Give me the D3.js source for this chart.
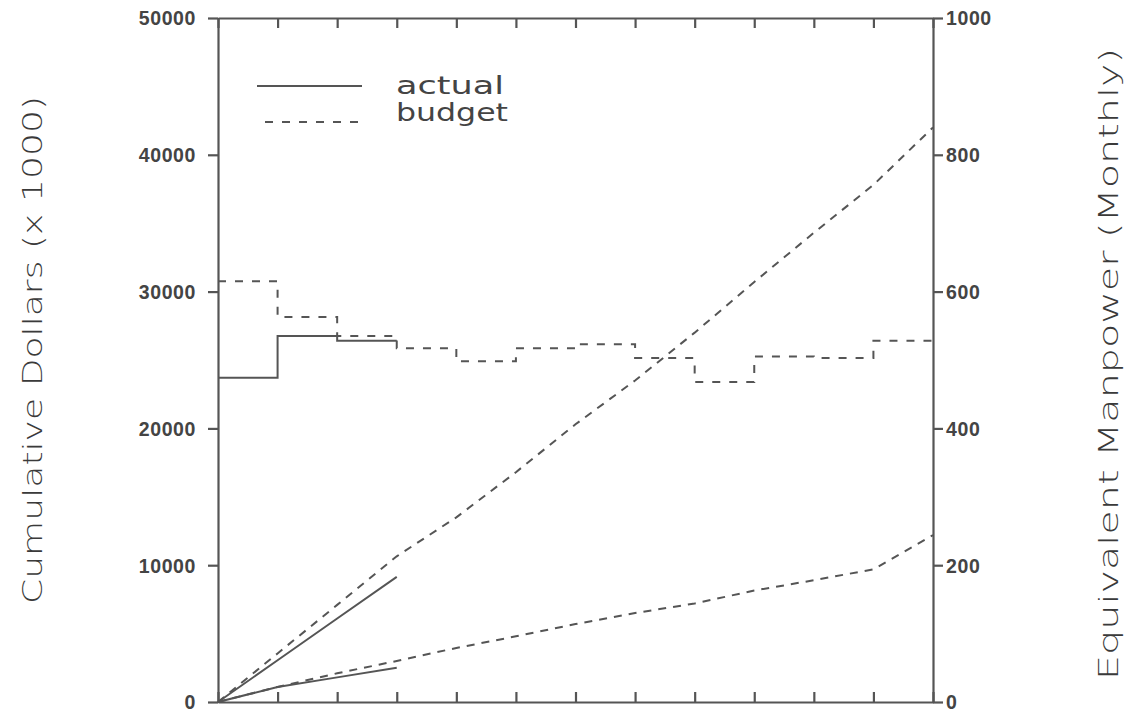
<!DOCTYPE html>
<html><head><meta charset="utf-8">
<script src="https://cdn.jsdelivr.net/npm/d3@7"></script>
<style>
html,body{margin:0;padding:0;background:#fff;}
svg{display:block;}
</style></head>
<body><svg id="c" width="1139" height="715"></svg>
<script>
// ---- data ----
const months = [0,1,2,3,4,5,6,7,8,9,10,11,12];
// cumulative dollars (x 1000), left axis
const budgetDollars = [0,3550,7100,10650,13500,16800,20300,23500,27000,30700,34300,37800,42000];
const actualDollars = [0,3050,6100,9150];
const budgetDollars2 = [0,1100,2100,3000,3950,4800,5700,6500,7200,8150,8900,9700,12200];
const actualDollars2 = [0,1100,1800,2500];
// monthly equivalent manpower, right axis (value per month interval)
const budgetManpower = [615,563,535,517,498,517,523,503,468,505,503,528];
const actualManpower = [474,535,528];
const leftTicks = [0,10000,20000,30000,40000,50000];
const rightTicks = [0,200,400,600,800,1000];
const legendLabels = ["actual","budget"];
const leftTitle = "Cumulative Dollars (x 1000)";
const rightTitle = "Equivalent Manpower (Monthly)";

// ---- layout ----
const L=218,R=933,T=18,B=702;
const ink="#555";
const svg=d3.select("#c");
const x=d3.scaleLinear().domain([0,12]).range([L,R]);
const yL=d3.scaleLinear().domain([0,50000]).range([B,T]);
const yR=d3.scaleLinear().domain([0,1000]).range([B,T]);

const numFont='"Liberation Sans", Arial, sans-serif';
const txtFont='"DejaVu Sans", "Noto Sans", sans-serif';

function styleAxis(g,labels){
  g.selectAll("path").attr("stroke",ink).attr("stroke-width",2.2);
  g.selectAll("line").attr("stroke",ink).attr("stroke-width",2.2);
  g.selectAll("text").attr("fill","#444").attr("font-family",numFont)
    .attr("font-size",19.5).attr("font-weight","bold").attr("letter-spacing","0.6px");
  if(!labels) g.selectAll("text").remove();
}
svg.append("g").attr("transform",`translate(${L},0)`)
  .call(d3.axisLeft(yL).tickValues(leftTicks).tickSize(10).tickSizeOuter(0).tickPadding(12).tickFormat(d3.format("d")))
  .call(g=>styleAxis(g,true));
svg.append("g").attr("transform",`translate(${R},0)`)
  .call(d3.axisRight(yR).tickValues(rightTicks).tickSize(10).tickSizeOuter(0).tickPadding(3).tickFormat(d3.format("d")))
  .call(g=>styleAxis(g,true));
svg.append("g").attr("transform",`translate(0,${B})`)
  .call(d3.axisBottom(x).tickValues(months).tickSize(-10).tickSizeOuter(0).tickFormat(""))
  .call(g=>styleAxis(g,false));
svg.append("g").attr("transform",`translate(0,${T})`)
  .call(d3.axisTop(x).tickValues(months).tickSize(-10).tickSizeOuter(0).tickFormat(""))
  .call(g=>styleAxis(g,false));
svg.selectAll(".tick text").attr("dy","0.35em");

// ---- cumulative lines ----
const lineL=d3.line().x((d,i)=>x(months[i])).y(d=>yL(d));
function path(d,gen,dash){
  svg.append("path").datum(d).attr("d",gen).attr("fill","none")
    .attr("stroke",ink).attr("stroke-width",2).attr("stroke-dasharray",dash||null);
}
path(budgetDollars,lineL,"8,7");
path(budgetDollars2,lineL,"8,7");
path(actualDollars,lineL);
path(actualDollars2,lineL);

// ---- step lines (monthly manpower) ----
const stepR=d3.line().curve(d3.curveStepAfter).x((d,i)=>x(months[i])).y(d=>yR(d));
const withEnd=a=>a.concat([a[a.length-1]]);
path(withEnd(budgetManpower),stepR,"8,9");
path(withEnd(actualManpower),stepR);

// ---- legend ----
svg.append("line").attr("x1",257).attr("x2",362).attr("y1",86).attr("y2",86)
  .attr("stroke",ink).attr("stroke-width",2);
svg.append("line").attr("x1",265).attr("x2",362).attr("y1",122).attr("y2",122)
  .attr("stroke",ink).attr("stroke-width",2).attr("stroke-dasharray","8,9");
svg.selectAll(".lg").data(legendLabels).enter().append("text")
  .attr("x",396).attr("y",(d,i)=>i===0?94:121)
  .attr("font-family",txtFont).attr("font-size",25).attr("fill","#444")
  .attr("textLength",(d,i)=>i===0?108:112).attr("lengthAdjust","spacingAndGlyphs")
  .text(d=>d);

// ---- axis titles ----
svg.append("text").attr("transform","translate(42,350) rotate(-90)")
  .attr("text-anchor","middle").attr("font-family",txtFont).attr("font-size",27)
  .attr("font-weight",200).attr("fill","#3a3a3a").attr("textLength",508).attr("lengthAdjust","spacingAndGlyphs")
  .text(leftTitle);
svg.append("text").attr("transform","translate(1118,364) rotate(-90)")
  .attr("text-anchor","middle").attr("font-family",txtFont).attr("font-size",27)
  .attr("font-weight",200).attr("fill","#3a3a3a").attr("textLength",632).attr("lengthAdjust","spacingAndGlyphs")
  .text(rightTitle);
</script></body></html>
